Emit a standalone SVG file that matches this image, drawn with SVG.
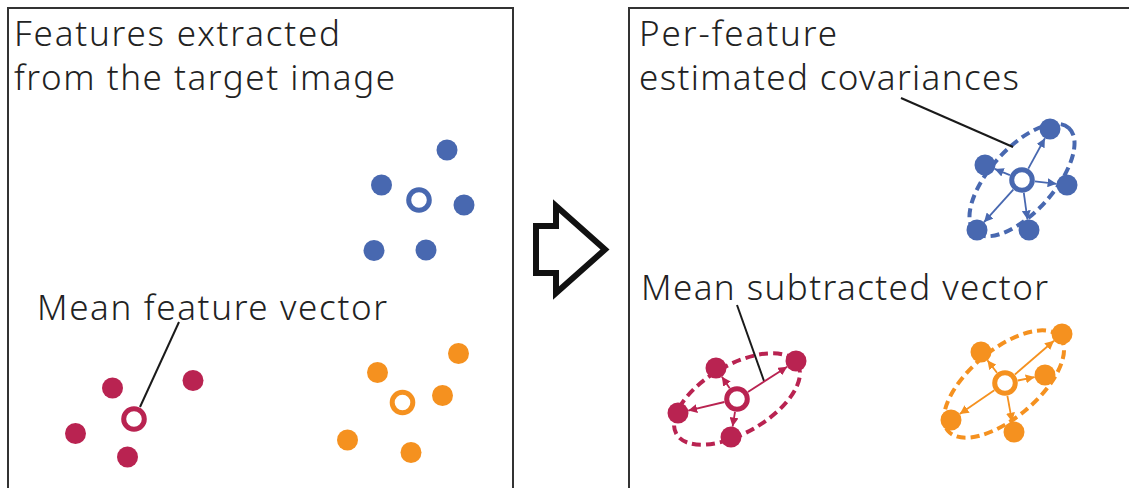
<svg xmlns="http://www.w3.org/2000/svg" width="1129" height="488" viewBox="0 0 1129 488">
  <style>
    .panel { fill: #ffffff; stroke: #333333; stroke-width: 2; }
    .lbl { font-family: "Noto Sans", "Liberation Sans", sans-serif; font-size: 35px; font-weight: 300; fill: #222222; }
    .leader { stroke: #1a1a1a; stroke-width: 2; fill: none; }
    .blue { fill: #4868B0; }
    .crim { fill: #B92351; }
    .orng { fill: #F5911F; }
    .ringB { fill: #ffffff; stroke: #4868B0; stroke-width: 5; }
    .ringC { fill: #ffffff; stroke: #B92351; stroke-width: 5; }
    .ringO { fill: #ffffff; stroke: #F5911F; stroke-width: 5; }
    .ellB { fill: none; stroke: #4868B0; stroke-width: 4; stroke-dasharray: 9 5; }
    .ellC { fill: none; stroke: #B92351; stroke-width: 4; stroke-dasharray: 9 5; }
    .ellO { fill: none; stroke: #F5911F; stroke-width: 4; stroke-dasharray: 9 5; }
    .arB { stroke: #4868B0; stroke-width: 1.8; marker-end: url(#mB); }
    .arC { stroke: #B92351; stroke-width: 1.8; marker-end: url(#mC); }
    .arO { stroke: #F5911F; stroke-width: 1.8; marker-end: url(#mO); }
  </style>
  <defs>
    <marker id="mB" viewBox="0 0 10 10" refX="10" refY="5" markerWidth="5" markerHeight="5" orient="auto"><path d="M0,0 L10,5 L0,10 z" fill="#4868B0"/></marker>
    <marker id="mC" viewBox="0 0 10 10" refX="10" refY="5" markerWidth="5" markerHeight="5" orient="auto"><path d="M0,0 L10,5 L0,10 z" fill="#B92351"/></marker>
    <marker id="mO" viewBox="0 0 10 10" refX="10" refY="5" markerWidth="5" markerHeight="5" orient="auto"><path d="M0,0 L10,5 L0,10 z" fill="#F5911F"/></marker>
  </defs>
  <rect width="1129" height="488" fill="#ffffff"/>

  <g id="panel-left">
    <rect class="panel" x="8" y="8" width="505" height="500"/>
    <text class="lbl" x="14" y="46" textLength="326">Features extracted</text>
    <text class="lbl" x="14" y="90" textLength="381">from the target image</text>
  </g>

  <g id="panel-right">
    <rect class="panel" x="629" y="8" width="520" height="500"/>
    <text class="lbl" x="639" y="46" textLength="198">Per-feature</text>
    <text class="lbl" x="639" y="90" textLength="380">estimated covariances</text>
  </g>

  <g id="big-arrow">
    <polygon points="536,226 556,226 556,206 605,249.5 556,293 556,273 536,273" fill="#ffffff" stroke="#111111" stroke-width="6" stroke-linejoin="miter"/>
  </g>

  <g id="left-blue-cluster">
    <circle class="blue" cx="447" cy="150" r="10.5"/>
    <circle class="blue" cx="381.5" cy="185" r="10.5"/>
    <circle class="blue" cx="464" cy="205" r="10.5"/>
    <circle class="blue" cx="374" cy="250.5" r="10.5"/>
    <circle class="blue" cx="426" cy="250" r="10.5"/>
    <circle class="ringB" cx="419" cy="200" r="10.3"/>
  </g>

  <g id="left-crimson-cluster">
    <circle class="crim" cx="112.5" cy="388" r="10.5"/>
    <circle class="crim" cx="193" cy="380.5" r="10.5"/>
    <circle class="crim" cx="75.5" cy="433.5" r="10.5"/>
    <circle class="crim" cx="127.5" cy="457" r="10.5"/>
    <circle class="ringC" cx="134" cy="419" r="10.3"/>
  </g>

  <g id="left-orange-cluster">
    <circle class="orng" cx="458.5" cy="353.5" r="10.5"/>
    <circle class="orng" cx="377.5" cy="372.5" r="10.5"/>
    <circle class="orng" cx="442.5" cy="395.5" r="10.5"/>
    <circle class="orng" cx="347.5" cy="440" r="10.5"/>
    <circle class="orng" cx="411" cy="452.5" r="10.5"/>
    <circle class="ringO" cx="402.5" cy="402.5" r="10.3"/>
  </g>

  <g id="label-mean-feature">
    <text class="lbl" x="37" y="320" textLength="350">Mean feature vector</text>
  </g>

  <g id="right-blue-cluster">
    <ellipse class="ellB" cx="1022" cy="180" rx="70" ry="32" transform="rotate(-48 1022 180)"/>
    <circle class="blue" cx="1050" cy="129" r="10.5"/>
    <circle class="blue" cx="985" cy="165" r="10.5"/>
    <circle class="blue" cx="1067" cy="185" r="10.5"/>
    <circle class="blue" cx="977" cy="230" r="10.5"/>
    <circle class="blue" cx="1029" cy="230" r="10.5"/>
    <circle class="ringB" cx="1022" cy="180" r="10.3"/>
  </g>

  <g id="right-crimson-cluster">
    <ellipse class="ellC" cx="737" cy="399" rx="70" ry="34" transform="rotate(-30 737 399)"/>
    <circle class="crim" cx="716" cy="368" r="10.5"/>
    <circle class="crim" cx="796" cy="361" r="10.5"/>
    <circle class="crim" cx="678" cy="413" r="10.5"/>
    <circle class="crim" cx="731" cy="437" r="10.5"/>
    <circle class="ringC" cx="737" cy="399" r="10.3"/>
  </g>

  <g id="right-orange-cluster">
    <ellipse class="ellO" cx="1004" cy="384" rx="73" ry="34" transform="rotate(-40 1004 384)"/>
    <circle class="orng" cx="1062" cy="334" r="10.5"/>
    <circle class="orng" cx="981" cy="352" r="10.5"/>
    <circle class="orng" cx="1045" cy="375" r="10.5"/>
    <circle class="orng" cx="951" cy="420" r="10.5"/>
    <circle class="orng" cx="1014" cy="432" r="10.5"/>
    <circle class="ringO" cx="1005" cy="383" r="10.3"/>
  </g>

  <g id="label-mean-subtracted">
    <text class="lbl" x="641" y="300" textLength="407">Mean subtracted vector</text>
  </g>

  <g id="connectors">
    <line class="leader" x1="179" y1="322" x2="140" y2="407"/>
    <line class="leader" x1="901" y1="98" x2="1013" y2="147"/>
    <line class="leader" x1="737" y1="305" x2="764" y2="381"/>

    <line class="arB" x1="1028.3" y1="168.6" x2="1044.9" y2="138.2"/>
    <line class="arB" x1="1009.9" y1="175.1" x2="994.7" y2="168.9"/>
    <line class="arB" x1="1034.9" y1="181.4" x2="1056.6" y2="183.8"/>
    <line class="arB" x1="1013.3" y1="189.7" x2="984.0" y2="222.2"/>
    <line class="arB" x1="1023.8" y1="192.9" x2="1027.5" y2="219.6"/>

    <line class="arC" x1="729.7" y1="388.2" x2="721.9" y2="376.7"/>
    <line class="arC" x1="747.9" y1="392.0" x2="787.2" y2="366.7"/>
    <line class="arC" x1="724.4" y1="402.0" x2="688.2" y2="410.6"/>
    <line class="arC" x1="735.0" y1="411.8" x2="732.6" y2="426.6"/>

    <line class="arO" x1="1014.9" y1="374.5" x2="1054.0" y2="340.8"/>
    <line class="arO" x1="997.0" y1="372.7" x2="987.4" y2="360.3"/>
    <line class="arO" x1="1017.8" y1="380.5" x2="1034.7" y2="377.1"/>
    <line class="arO" x1="994.3" y1="390.3" x2="959.7" y2="414.1"/>
    <line class="arO" x1="1007.4" y1="395.8" x2="1012.1" y2="421.7"/>
  </g>
</svg>
